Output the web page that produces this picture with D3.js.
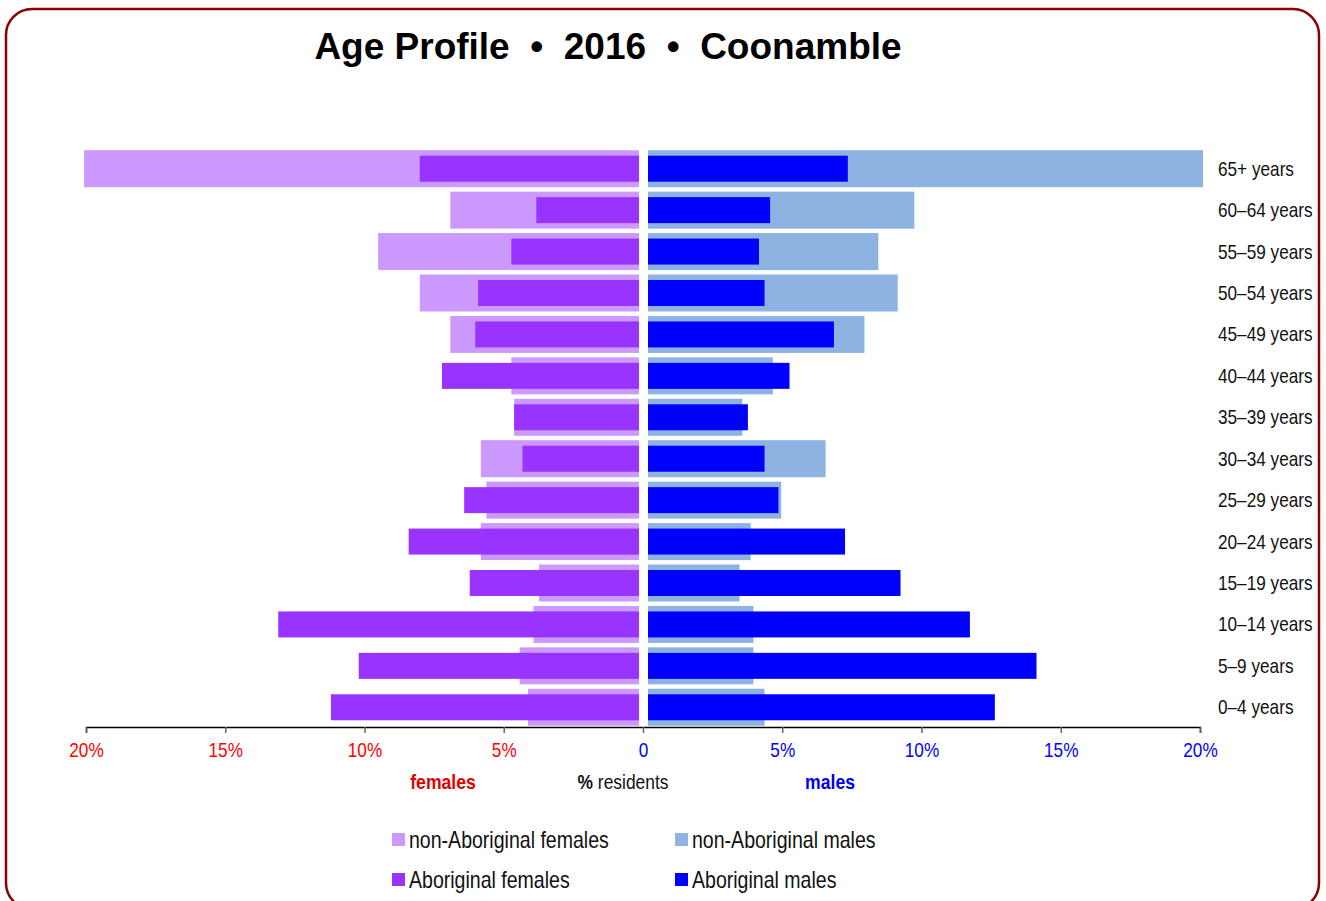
<!DOCTYPE html>
<html>
<head>
<meta charset="utf-8">
<script src="https://cdn.jsdelivr.net/npm/d3@7"></script>
<style>
  body { margin: 0; background: #fff; }
  svg { display: block; }
</style>
</head>
<body>
<div class="container"></div>
<script>
// age groups, top to bottom
const ageGroups = ["65+ years", "60–64 years", "55–59 years", "50–54 years", "45–49 years",
  "40–44 years", "35–39 years", "30–34 years", "25–29 years", "20–24 years",
  "15–19 years", "10–14 years", "5–9 years", "0–4 years"]

// % of residents
const nonAbFemales = [20.0, 6.8, 9.4, 7.9, 6.8, 4.6, 4.5, 5.7, 5.5, 5.7, 3.6, 3.8, 4.3, 4.0]
const abFemales    = [7.9, 3.7, 4.6, 5.8, 5.9, 7.1, 4.5, 4.2, 6.3, 8.3, 6.1, 13.0, 10.1, 11.1]
const nonAbMales   = [20.0, 9.6, 8.3, 9.0, 7.8, 4.5, 3.4, 6.4, 4.8, 3.7, 3.3, 3.8, 3.8, 4.2]
const abMales      = [7.2, 4.4, 4.0, 4.2, 6.7, 5.1, 3.6, 4.2, 4.7, 7.1, 9.1, 11.6, 14.0, 12.5]

const tickValues = [-20, -15, -10, -5, 0, 5, 10, 15, 20]

const w = 1326
const h = 901
const font = "'Liberation Sans', Arial, sans-serif"

const svg = d3.select(".container")
  .append("svg")
  .attr("width", w)
  .attr("height", h)

// frame
svg.append("rect")
  .attr("x", 6)
  .attr("y", 9)
  .attr("width", 1313)
  .attr("height", 900)
  .attr("rx", 26)
  .attr("fill", "#fff")
  .attr("stroke", "#8b0000")
  .attr("stroke-width", 2.5)

svg.append("text")
  .attr("x", 608)
  .attr("y", 59)
  .attr("text-anchor", "middle")
  .style("font-family", font)
  .style("font-weight", "bold")
  .style("font-size", "37px")
  .attr("xml:space", "preserve")
  .text("Age Profile  •  2016  •  Coonamble")

// narrow-looking text: squeeze a normal font horizontally
const narrowText = (parent, x, y, size, sx) => parent.append("text")
  .attr("transform", "translate(" + x + "," + y + ") scale(" + sx + ",1)")
  .style("font-family", font)
  .style("font-size", size + "px")

const axisY = 727
const xAxisScale = d3.scaleLinear().domain([-20, 20]).range([86, 1200])
const xF = d3.scaleLinear().domain([0, 20]).range([639, 84])
const xM = d3.scaleLinear().domain([0, 20]).range([648, 1203])
const yScale = d3.scaleBand().domain(ageGroups).range([148, 728]).paddingInner(0.1).paddingOuter(0.05)

const lightH = 37
const darkH = 26
const rowY = (i) => yScale(ageGroups[i]) + yScale.bandwidth() / 2

const drawBars = (values, scale, left, color, bh) => {
  svg.append("g")
    .selectAll("rect")
    .data(values)
    .enter()
    .append("rect")
    .attr("x", (d) => left ? scale(d) : scale(0))
    .attr("y", (d, i) => rowY(i) - bh / 2)
    .attr("width", (d) => Math.abs(scale(d) - scale(0)))
    .attr("height", bh)
    .attr("fill", color)
}

drawBars(nonAbFemales, xF, true, "#cc99ff", lightH)
drawBars(nonAbMales, xM, false, "#8db3e2", lightH)
drawBars(abFemales, xF, true, "#9933ff", darkH)
drawBars(abMales, xM, false, "#0000ff", darkH)

// age labels
const ageG = svg.append("g")
ageGroups.forEach((d, i) => {
  narrowText(ageG, 1218, rowY(i), 20, 0.86)
    .attr("dy", "0.35em")
    .attr("fill", "#111")
    .text(d)
})

// x axis
const xAxis = d3.axisBottom(xAxisScale)
  .tickValues(tickValues)
  .tickSize(6)
  .tickPadding(10)
  .tickFormat((d) => d === 0 ? "0" : Math.abs(d) + "%")

const axisG = svg.append("g")
  .attr("transform", "translate(0," + axisY + ")")
  .call(xAxis)

axisG.select(".domain").attr("stroke", "#000").attr("stroke-width", 1.5)
axisG.selectAll(".tick line").attr("stroke", "#666").attr("stroke-width", 1.5)
axisG.selectAll(".tick text")
  .attr("transform", "scale(0.86,1)")
  .style("font-family", font)
  .style("font-size", "20px")
  .attr("fill", (d) => d < 0 ? "#ff0000" : "#0000ff")

const subY = 789
narrowText(svg, 443, subY, 20, 0.88)
  .attr("text-anchor", "middle")
  .style("font-weight", "bold")
  .attr("fill", "#e00000")
  .text("females")

const resText = narrowText(svg, 623, subY, 20, 0.87)
  .attr("text-anchor", "middle")
  .attr("fill", "#111")
resText.append("tspan").style("font-weight", "bold").text("%")
resText.append("tspan").text(" residents")

narrowText(svg, 830, subY, 20, 0.88)
  .attr("text-anchor", "middle")
  .style("font-weight", "bold")
  .attr("fill", "#0000ee")
  .text("males")

// legend
const legendItems = [
  { label: "non-Aboriginal females", color: "#cc99ff", x: 392, y: 840 },
  { label: "non-Aboriginal males", color: "#8db3e2", x: 675, y: 840 },
  { label: "Aboriginal females", color: "#9933ff", x: 392, y: 880 },
  { label: "Aboriginal males", color: "#0000ff", x: 675, y: 880 }
]

const legend = svg.append("g")
legendItems.forEach((d) => {
  legend.append("rect")
    .attr("x", d.x).attr("y", d.y - 7)
    .attr("width", 13).attr("height", 13)
    .attr("fill", d.color)
  narrowText(legend, d.x + 17, d.y, 23, 0.85)
    .attr("dy", "0.35em")
    .attr("fill", "#111")
    .text(d.label)
})
</script>
</body>
</html>
